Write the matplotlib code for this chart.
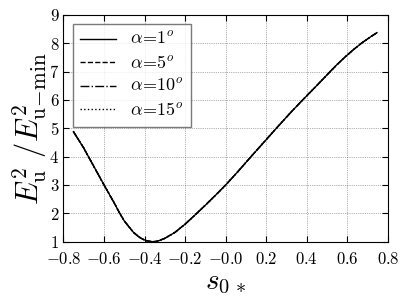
import numpy as np
import matplotlib
matplotlib.use("Agg")
import matplotlib.pyplot as plt
from matplotlib.ticker import FuncFormatter

plt.rcParams['mathtext.fontset'] = 'cm'
plt.rcParams['font.family'] = 'DejaVu Serif'

# valores (as quatro curvas praticamente coincidem)
s0 = [-0.751, -0.70, -0.677, -0.65, -0.60, -0.55, -0.524, -0.50, -0.455, -0.43,
      -0.41, -0.39, -0.37, -0.36, -0.35, -0.33, -0.30, -0.25, -0.20, -0.15,
      -0.10, -0.05, 0.00, 0.06, 0.125, 0.19, 0.25, 0.32,
      0.38, 0.45, 0.513, 0.55, 0.59, 0.63, 0.67, 0.71, 0.746]
ratio = [4.88, 4.30, 4.00, 3.65, 3.00, 2.37, 2.02, 1.73, 1.33, 1.18,
         1.09, 1.035, 1.006, 1.0, 1.005, 1.035, 1.12, 1.33, 1.62, 1.95,
         2.29, 2.64, 3.0, 3.47, 4.0, 4.52, 5.0, 5.55,
         6.0, 6.51, 6.98, 7.25, 7.52, 7.77, 8.0, 8.2, 8.37]
labels = [r'$\alpha\!=\!1^o$', r'$\alpha\!=\!5^o$', r'$\alpha\!=\!10^o$', r'$\alpha\!=\!15^o$']
styles = ['-', '--', '-.', ':']

fig = plt.figure(figsize=(4.07, 3.05), dpi=100)
ax = fig.add_axes([0.156, 0.2075, 0.797, 0.744])

for lab, ls in zip(labels, styles):
    ax.plot(s0, ratio, color='k', linestyle=ls, linewidth=1.0, label=lab)

ax.set_xlim(-0.8, 0.8)
ax.set_ylim(1, 9)
ax.set_xticks(np.arange(-0.8, 0.81, 0.2))
ax.set_yticks(np.arange(1, 10, 1))
ax.xaxis.set_major_formatter(FuncFormatter(lambda v, p: r'$%.1f$' % v))
ax.yaxis.set_major_formatter(FuncFormatter(lambda v, p: r'$%d$' % v))
ax.tick_params(direction='in', top=True, right=True, labelsize=12, length=4, pad=3)
ax.tick_params(axis='x', pad=7)
ax.grid(True, color='k', linestyle=':', linewidth=0.5, alpha=0.6)

ax.set_xlabel(r'$s_{0\,*}$', fontsize=21, labelpad=0)
ax.set_ylabel(r'$E_{\rm u}^2\ /E_{\rm u\!-\!min}^2$', fontsize=22, labelpad=0)

leg = ax.legend(loc='upper left', fontsize=13, fancybox=False, edgecolor='0.35',
                handlelength=2.0, labelspacing=0.3, borderaxespad=0.5,
                handletextpad=0.8, borderpad=0.4)
leg.get_frame().set_linewidth(1.0)

fig.savefig('out.png', dpi=100)
